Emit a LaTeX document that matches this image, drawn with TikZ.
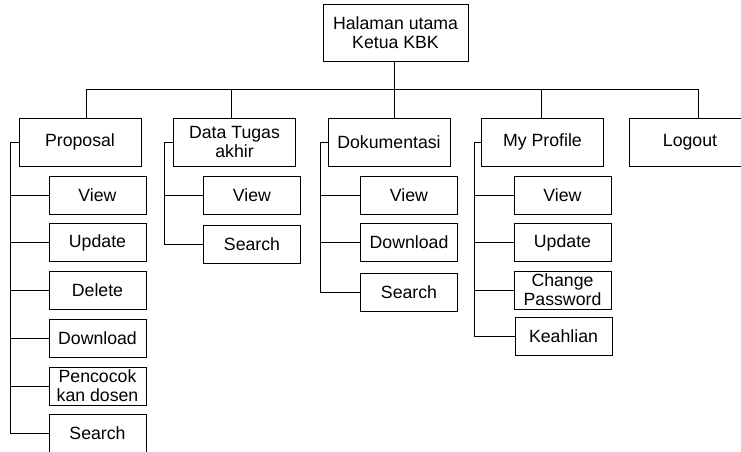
\documentclass[tikz,border=0pt]{standalone}
\usepackage{fontspec}
\setmainfont{Liberation Sans}
\usepackage{tikz}
\usetikzlibrary{calc}

\begin{document}
\begin{tikzpicture}[x=1pt, y=-1pt, line width=0.9pt,
    box/.style={draw, fill=white, align=center, inner sep=1pt,
      font=\fontsize{17.7}{19}\selectfont},
    rootbox/.style={box, minimum width=145pt, minimum height=57pt},
    menubox/.style={box, minimum width=122pt, minimum height=48pt},
    subbox/.style={box, minimum width=97pt, minimum height=38pt}]
    \clip (0,0) rectangle (741,452);
    \node[rootbox] (root) at (395.5,32.5) {Halaman utama\\Ketua KBK};
    \node[menubox] (prop) at (80,142) {Proposal};
    \node[menubox] (data) at (234.5,142) {Data Tugas\\akhir};
    \node[menubox] (dok) at (389,142) {Dokumentasi};
    \node[menubox] (prof) at (542.5,142) {My Profile};
    \node[menubox] (logout) at (690,142) {Logout};
    % bus
    \coordinate (b1) at (86,89);
    \coordinate (b2) at (231,89);
    \coordinate (b3) at (394,89);
    \coordinate (b4) at (541,89);
    \coordinate (b5) at (698,89);
    \draw (root.south -| b3) -- (b3);
    \draw (b1) -- (b5);
    \draw (b1) -- (b1 |- prop.north);
    \draw (b2) -- (b2 |- data.north);
    \draw (b3) -- (b3 |- dok.north);
    \draw (b4) -- (b4 |- prof.north);
    \draw (b5) -- (b5 |- logout.north);
    % Proposal
    \node[subbox] (pview) at (97.5,195) {View};
    \node[subbox] (pupd) at (97.5,242.5) {Update};
    \node[subbox] (pdel) at (97.5,290.5) {Delete};
    \node[subbox] (pdown) at (97.5,338) {Download};
    \node[subbox] (pcoc) at (97.5,386) {Pencocok\\kan dosen};
    \node[subbox] (psrc) at (97.5,433) {Search};
    \foreach \c in {pview,pupd,pdel,pdown,pcoc,psrc}
        \draw (prop.west) -- ++(-8,0) |- (\c.west);
    % Data Tugas akhir
    \node[subbox] (dview) at (252,195) {View};
    \node[subbox] (dsrc) at (252,244.5) {Search};
    \foreach \c in {dview,dsrc}
        \draw (data.west) -- ++(-9,0) |- (\c.west);
    % Dokumentasi
    \node[subbox] (kview) at (409,195) {View};
    \node[subbox] (kdown) at (409,242.5) {Download};
    \node[subbox] (ksrc) at (409,292) {Search};
    \foreach \c in {kview,kdown,ksrc}
        \draw (dok.west) -- ++(-7,0) |- (\c.west);
    % My Profile
    \node[subbox] (mview) at (562.5,195) {View};
    \node[subbox] (mupd) at (562.5,242.5) {Update};
    \node[subbox] (mpass) at (562.5,290) {Change\\Password};
    \node[subbox] (mahli) at (563.5,336) {Keahlian};
    \foreach \c in {mview,mupd,mpass,mahli}
        \draw (prof.west) -- ++(-7,0) |- (\c.west);
\end{tikzpicture}
\end{document}
